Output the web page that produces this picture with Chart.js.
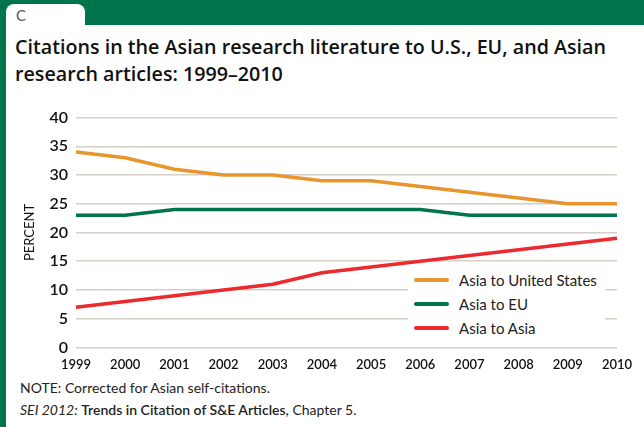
<!DOCTYPE html>
<html lang="en">
<head>
  <meta charset="UTF-8">
  <title>Citations in the Asian research literature</title>
  <script src="https://cdn.jsdelivr.net/npm/chart.js"></script>
  <style>
    body {
      margin: 0;
      width: 644px;
      height: 427px;
      overflow: hidden;
      font-family: Lato, "DejaVu Sans", sans-serif;
      background: #fff;
      position: relative;
    }
    .band {
      position: absolute; left: 0; top: 0; width: 644px; height: 25px;
      background: #00744a;
    }
    .side {
      position: absolute; left: 0; top: 0; width: 6px; height: 427px;
      background: #00744a;
    }
    .tab {
      position: absolute; left: 6px; top: 4px; width: 79px; height: 24px;
      background: #fff;
      border-radius: 8px 8px 0 0;
    }
    .letter {
      position: absolute; left: 16px; top: 6px;
      font-size: 15px; color: #555;
    }
    h1 {
      position: absolute; left: 15px; top: 33px; margin: 0;
      font-family: "Open Sans", Lato, sans-serif;
      font-size: 19.7px; line-height: 27px; font-weight: 600; color: #111;
    }
    #wrap {
      position: absolute; left: 8px; top: 100px; width: 632px; height: 275px;
    }
    #legend {
      position: absolute; left: 408px; top: 265px; width: 197px;
      background: #fff; padding: 3px 0 3px 6px; box-sizing: border-box;
      font-size: 15px; color: #222;
    }
    #legend div { height: 24px; display: flex; align-items: center; }
    #legend span.sw { display: inline-block; width: 35px; height: 4px; border-radius: 2px; margin-right: 10px; }
    .note {
      position: absolute; left: 20px; font-size: 14px; color: #222;
    }
  </style>
</head>
<body>
  <div class="band"></div>
  <div class="side"></div>
  <div class="tab"></div>
  <div class="letter">C</div>
  <h1>Citations in the Asian research literature to U.S., EU, and Asian<br>research articles: 1999–2010</h1>
  <div id="wrap"><canvas id="chart"></canvas></div>
  <div id="legend"></div>
  <div class="note" style="top:379px">NOTE: Corrected for Asian self-citations.</div>
  <div class="note" style="top:401px"><i>SEI 2012:</i> <b style="font-weight:600">Trends in Citation of S&amp;E Articles,</b> Chapter 5.</div>

  <script>
    const years = ['1999', '2000', '2001', '2002', '2003', '2004', '2005', '2006', '2007', '2008', '2009', '2010'];
    const asiaToUS = [34, 33, 31, 30, 30, 29, 29, 28, 27, 26, 25, 25];
    const asiaToEU = [23, 23, 24, 24, 24, 24, 24, 24, 23, 23, 23, 23];
    const asiaToAsia = [7, 8, 9, 10, 11, 13, 14, 15, 16, 17, 18, 19];

    const series = [
      { label: 'Asia to United States', data: asiaToUS, color: '#e8952d' },
      { label: 'Asia to EU', data: asiaToEU, color: '#00754a' },
      { label: 'Asia to Asia', data: asiaToAsia, color: '#ec2a2e' }
    ];

    const chart = new Chart(document.getElementById('chart'), {
      type: 'line',
      data: {
        labels: years,
        datasets: series.map(s => ({
          label: s.label,
          data: s.data,
          borderColor: s.color,
          backgroundColor: s.color,
          borderWidth: 3.5,
          pointRadius: 0,
          tension: 0,
          fill: false
        }))
      },
      options: {
        responsive: true,
        maintainAspectRatio: false,
        animation: false,
        layout: { padding: { top: 2, right: 23, bottom: 0, left: 14 } },
        plugins: {
          legend: { display: false },
          tooltip: { enabled: false }
        },
        scales: {
          x: {
            grid: { display: false },
            border: { display: false },
            ticks: {
              color: '#111',
              font: { family: 'Lato', size: 13, weight: '600' },
              maxRotation: 0,
              padding: 2
            }
          },
          y: {
            min: 0,
            max: 40,
            afterFit: s => { s.width = 54; },
            grid: { color: '#d4cfc7', lineWidth: 1.5, drawTicks: false },
            border: { display: false },
            title: {
              display: true,
              text: 'PERCENT',
              color: '#111',
              font: { family: 'Lato', size: 13 },
              padding: 0
            },
            ticks: {
              stepSize: 5,
              color: '#111',
              font: { family: 'Lato', size: 16, weight: '600' },
              padding: 8
            }
          }
        }
      }
    });

    const legend = document.getElementById('legend');
    chart.data.datasets.forEach(ds => {
      const row = document.createElement('div');
      row.innerHTML = '<span class="sw" style="background:' + ds.borderColor + '"></span>' + ds.label;
      legend.appendChild(row);
    });
  </script>
</body>
</html>
